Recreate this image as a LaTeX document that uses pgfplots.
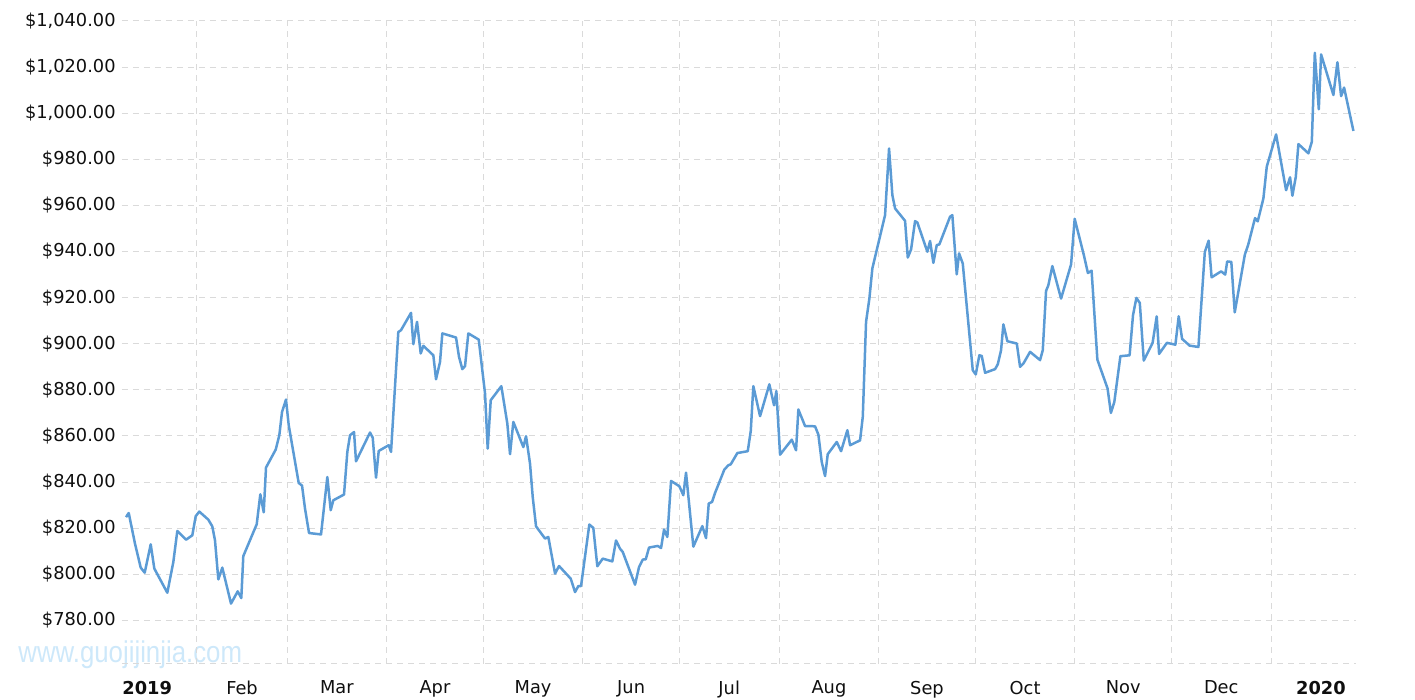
\documentclass[border=0pt]{standalone}
\usepackage{fontspec}
\setmainfont{DejaVu Sans}
\newfontfamily\wmfont{Liberation Sans}
\usepackage{graphicx}
\usepackage{pgfplots}
\pgfplotsset{compat=1.18}
\definecolor{linec}{RGB}{91,155,213}
\definecolor{gridc}{RGB}{218,218,218}
\definecolor{wmc}{RGB}{205,232,250}
\definecolor{labc}{RGB}{15,15,15}
\pgfplotstableread{
day price
8.93 824.8
9.77 826.6
11.72 813.3
13.50 802.9
14.74 800.7
16.61 813.0
17.73 802.5
21.77 792.0
23.64 805.3
24.88 818.8
27.58 815.0
29.54 816.9
30.60 825.2
31.72 827.2
34.52 823.7
35.76 820.8
36.60 814.7
37.63 797.8
38.87 802.9
41.58 787.3
43.66 792.6
44.78 789.7
45.40 807.9
49.57 821.7
50.69 834.7
51.75 826.9
52.46 846.3
55.48 854.1
56.60 860.3
57.44 870.4
58.68 875.8
59.52 864.7
62.63 839.6
63.66 838.5
64.59 828.5
65.84 817.9
69.57 817.3
71.53 842.2
72.58 827.8
73.39 832.1
76.72 834.6
77.75 853.1
78.58 860.3
79.83 861.7
80.45 849.0
84.80 861.5
85.64 859.3
86.67 841.9
87.51 853.5
90.62 856.0
91.34 853.1
93.60 905.1
94.44 905.9
97.55 913.4
98.27 899.8
99.42 909.5
100.57 895.8
101.38 899.1
104.49 895.0
105.33 884.6
106.57 892.1
107.29 904.5
111.55 902.7
112.48 894.3
113.51 889.0
114.35 890.3
115.37 904.5
118.61 901.8
120.57 878.4
121.40 854.5
122.34 875.5
125.64 881.6
127.50 865.4
128.34 852.1
129.37 866.1
132.48 855.2
133.32 859.9
134.56 848.0
135.40 833.5
136.43 820.8
139.23 815.5
140.25 816.2
142.34 800.3
143.58 803.6
147.22 798.1
148.56 792.3
149.58 794.9
150.42 794.9
153.00 821.6
154.24 820.1
155.49 803.5
157.17 806.8
160.15 805.6
161.30 814.7
162.55 811.1
163.39 809.7
167.21 795.5
168.45 803.1
169.61 806.4
170.54 806.5
171.57 811.6
174.27 812.3
175.30 811.4
176.23 819.4
177.26 816.2
178.41 840.5
180.99 838.2
182.23 834.3
183.07 844.1
185.34 812.0
188.14 820.9
189.29 815.7
190.13 830.7
191.16 831.4
192.09 835.3
194.98 845.4
196.22 847.3
196.97 847.7
199.03 852.6
202.26 853.4
203.20 862.2
204.00 881.6
206.09 868.6
208.98 882.4
210.44 873.3
211.16 879.5
212.31 851.9
215.95 858.4
217.28 853.8
218.00 871.5
220.08 864.3
223.19 864.2
224.22 860.6
225.27 848.7
226.30 842.6
227.14 852.1
229.94 857.4
231.28 853.4
233.24 862.5
234.08 856.0
237.19 858.1
238.03 868.3
239.05 909.5
240.08 919.6
241.01 932.7
244.96 955.8
246.20 984.7
247.23 964.5
248.07 958.7
251.18 953.3
252.02 937.4
253.05 940.9
254.29 953.2
255.00 952.6
258.11 939.9
258.95 944.6
259.98 935.1
261.03 942.8
261.84 943.1
265.17 955.1
265.88 955.8
267.25 930.1
267.97 939.2
269.12 934.8
272.23 888.5
273.16 886.7
274.28 895.0
275.03 894.7
276.06 887.4
279.17 889.0
280.01 891.1
281.03 897.2
281.75 908.4
282.99 901.1
285.92 900.1
286.94 890.0
287.97 891.4
290.05 896.5
293.16 892.9
294.00 897.2
295.02 922.9
295.74 925.4
296.98 933.7
299.69 919.6
302.80 934.4
303.92 954.2
306.75 938.6
308.03 930.7
309.18 931.7
310.98 893.1
314.15 880.6
315.18 870.0
316.24 874.7
318.14 894.6
321.00 895.0
322.06 912.4
323.11 919.9
324.17 917.7
325.41 892.7
328.15 900.4
329.43 911.9
330.17 895.6
332.60 900.4
335.24 899.6
336.27 911.9
337.33 902.1
339.66 899.2
342.40 898.6
344.39 939.8
345.57 944.7
346.50 928.8
349.46 931.4
350.73 930.0
351.35 935.7
352.63 935.5
353.69 913.6
356.83 938.6
357.89 943.0
360.00 954.5
360.84 953.1
362.60 963.0
363.65 976.8
366.55 990.8
369.66 966.6
370.90 972.2
371.62 964.2
372.68 972.4
373.49 986.6
376.60 982.6
377.66 987.6
378.59 1026.2
379.83 1001.7
380.55 1025.5
384.37 1007.9
385.62 1022.1
386.77 1007.4
387.70 1011.1
390.60 992.3
}\gold
\begin{document}
\begin{tikzpicture}
\useasboundingbox (0,0) rectangle (707.5pt,350pt);
\node[anchor=base west, inner sep=0pt, text=wmc, font=\wmfont\fontsize{15pt}{15pt}\selectfont] at (9pt,18.5pt) {\scalebox{0.86}[1]{www.guojijinjia.com}};
\begin{axis}[
  at={(61pt,18pt)}, anchor=south west,
  scale only axis, width=617pt, height=321.5pt,
  xmin=7.68, xmax=391.4, ymin=761.1, ymax=1040,
  axis x line*=bottom, axis y line*=left,
  y axis line style={draw=none},
  x axis line style={draw=gridc, line width=0.5pt, dash pattern=on 3pt off 2.5pt, -},
  major tick length=0pt, tick style={draw=none},
  grid=major,
  major grid style={draw=gridc, line width=0.5pt, dash pattern=on 3pt off 2.5pt},
  xtick={31,59,90,120,151,181,212,243,273,304,334,365},
  xticklabels={},
  extra x ticks={15.5,45,74.5,105,135.5,166,196.5,227.5,258,288.5,319,349.5,380.5},
  extra x tick labels={\textbf{2019},Feb,Mar,Apr,May,Jun,Jul,Aug,Sep,Oct,Nov,Dec,\textbf{2020}},
  extra x tick style={grid=none},
  ytick={780,800,...,1040},
  yticklabel={\$\pgfmathprintnumber{\tick}},
  tick label style={font=\fontsize{8.9pt}{10pt}\selectfont, text=labc},
  xticklabel style={anchor=north, inner sep=0pt, yshift=-8.3pt},
  yticklabel style={/pgf/number format/fixed, /pgf/number format/fixed zerofill, /pgf/number format/precision=2, /pgf/number format/1000 sep={,}, /pgf/number format/assume math mode=true, anchor=east, inner sep=0pt, xshift=-3pt},
]
\addplot[linec, line width=1.25pt, line join=round, mark=none] table[x=day, y=price] {\gold};
\end{axis}
\end{tikzpicture}
\end{document}
